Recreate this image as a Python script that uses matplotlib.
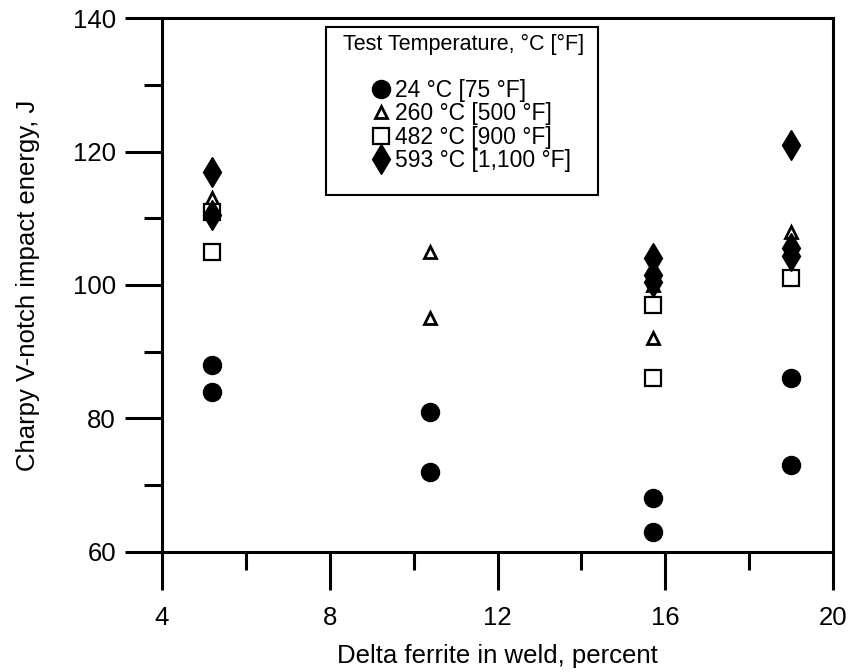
import numpy as np
import matplotlib.pyplot as plt
from matplotlib.patches import Rectangle
from matplotlib.ticker import MultipleLocator

plt.rcParams['font.family'] = ['Liberation Sans', 'DejaVu Sans']

# Delta ferrite (%) for each weld
x_24 = [5.2, 5.2, 10.4, 10.4, 15.7, 15.7, 19.0, 19.0]
y_24 = [88, 84, 81, 72, 68, 63, 86, 73]

x_260 = [5.2, 5.2, 10.4, 10.4, 15.7, 15.7, 19.0]
y_260 = [113, 105, 105, 95, 100, 92, 108]

x_482 = [5.2, 5.2, 15.7, 15.7, 19.0]
y_482 = [111, 105, 97, 86, 101]

x_593 = [5.2, 5.2, 15.7, 15.7, 15.7, 19.0, 19.0, 19.0]
y_593 = [117, 110.5, 104, 101.5, 100.5, 121, 105.5, 104.3]

labels = ['24 °C [75 °F]', '260 °C [500 °F]', '482 °C [900 °F]', '593 °C [1,100 °F]']

fig, ax = plt.subplots(figsize=(8.52, 6.72), dpi=100)
fig.subplots_adjust(left=0.190, right=0.978, top=0.973, bottom=0.179)

ax.plot(x_24, y_24, 'o', color='black', markersize=13, linestyle='none', label=labels[0])
ax.plot(x_260, y_260, '^', markerfacecolor='white', markeredgecolor='black',
        markeredgewidth=2, markersize=9, linestyle='none', label=labels[1])
ax.plot(x_482, y_482, 's', markerfacecolor='white', markeredgecolor='black',
        markeredgewidth=1.6, markersize=12, linestyle='none', label=labels[2])
ax.plot(x_593, y_593, 'd', color='black', markersize=15, linestyle='none', label=labels[3])

ax.set_xlim(4, 20)
ax.set_ylim(60, 140)
ax.xaxis.set_major_locator(MultipleLocator(4))
ax.xaxis.set_minor_locator(MultipleLocator(2))
ax.yaxis.set_major_locator(MultipleLocator(20))
ax.yaxis.set_minor_locator(MultipleLocator(10))

ax.tick_params(which='major', direction='out', length=27, width=2.2, labelsize=18.5)
ax.tick_params(axis='x', which='major', pad=12)
ax.tick_params(axis='y', which='major', pad=6)
ax.tick_params(which='minor', direction='out', length=13, width=2.2)
ax.tick_params(top=False, right=False)
for sp in ax.spines.values():
    sp.set_linewidth(2.2)

ax.set_xlabel('Delta ferrite in weld, percent', fontsize=18.5, labelpad=10)
ax.set_ylabel('Charpy V-notch impact energy, J', fontsize=18.5, labelpad=24)

# legend box + title drawn separately, entries from the legend
ax.add_patch(Rectangle((0.2444, 0.6685), 0.4054, 0.3145, transform=ax.transAxes,
                       facecolor='white', edgecolor='black', linewidth=1.5, zorder=4))
ax.text(0.450, 0.951, 'Test Temperature, °C [°F]', transform=ax.transAxes,
        ha='center', va='center', fontsize=15.5, zorder=6)
leg = ax.legend(loc='upper left', bbox_to_anchor=(0.310, 0.886), fontsize=16.5,
                frameon=False, handletextpad=0.1, borderpad=0, labelspacing=0.02,
                handlelength=1.0, borderaxespad=0)
leg.set_zorder(6)

fig.savefig('out.png', dpi=100)
